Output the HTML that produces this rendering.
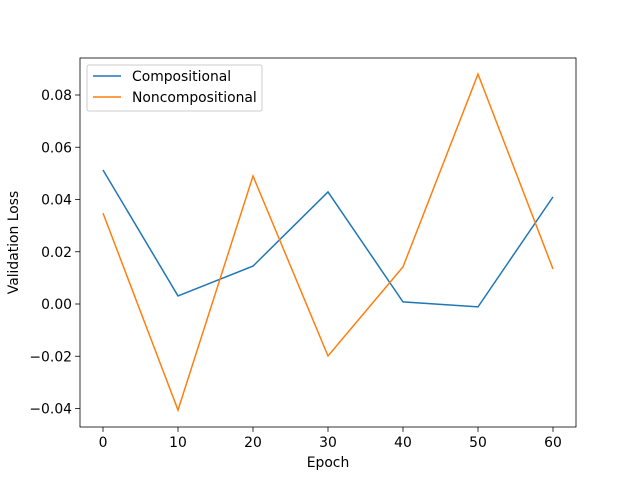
<!DOCTYPE html>
<html><head><meta charset="utf-8"><style>body{margin:0;background:#fff}svg{display:block;font-family:"DejaVu Sans","Liberation Sans",sans-serif}</style></head>
<body>
<svg id="chart" width="640" height="480"></svg>
<script>
const epochs=[0,10,20,30,40,50,60];
const compositional=[0.0513,0.0031,0.0145,0.0429,0.0008,-0.0011,0.041];
const noncompositional=[0.0348,-0.0406,0.049,-0.0199,0.0142,0.088,0.0134];
const xTicks=[0,10,20,30,40,50,60];
const yTicks=[-0.04,-0.02,0,0.02,0.04,0.06,0.08];
const L=80,R=576,T=58,B=427;
const xs=v=>103+(v-0)*7.5;
const ys=v=>304-v*2612.5;
const svg=document.getElementById('chart');
const NS='http://www.w3.org/2000/svg';
function mk(t,a,p){const e=document.createElementNS(NS,t);for(const k in a)e.setAttribute(k,a[k]);(p||svg).appendChild(e);return e;}
const FS=13.9;
let e;
e=mk('rect',{x:L,y:T,width:R-L,height:B-T,fill:'none',stroke:'#000','stroke-width':0.8});


xTicks.forEach(v=>{
 e=mk('line',{x1:xs(v),x2:xs(v),y1:B,y2:B+4.9,stroke:'#000','stroke-width':0.8});
 
 
 e=mk('text',{x:xs(v),y:B+20,'text-anchor':'middle','font-size':FS});e.textContent=v;
 
 
});
yTicks.forEach(v=>{
 e=mk('line',{x1:L-4.9,x2:L,y1:ys(v),y2:ys(v),stroke:'#000','stroke-width':0.8});
 
 
 e=mk('text',{x:L-8,y:ys(v)+5,'text-anchor':'end','font-size':FS});e.textContent=(v<0?'\u2212':'')+Math.abs(v).toFixed(2);
 
 
});
e=mk('text',{x:(L+R)/2,y:467,'text-anchor':'middle','font-size':FS});e.textContent='Epoch';


e=mk('text',{x:18,y:(T+B)/2,'text-anchor':'middle','font-size':FS,transform:`rotate(-90 18 ${(T+B)/2})`});e.textContent='Validation Loss';


function line(d,c,n){
 e=mk('polyline',{points:d.map((v,i)=>xs(epochs[i])+','+ys(v)).join(' '),fill:'none',stroke:c,'stroke-width':1.5});
 
 
}
line(compositional,'#1f77b4','compositional-line');
line(noncompositional,'#ff7f0e','noncompositional-line');
const g=mk('g',{});


mk('rect',{x:87,y:65,width:175,height:46,rx:2,fill:'#fff','fill-opacity':0.8,stroke:'#ccc'},g);
[['Compositional','#1f77b4',76],['Noncompositional','#ff7f0e',97]].forEach(([t,c,y])=>{
 mk('line',{x1:93,x2:121,y1:y,y2:y,stroke:c,'stroke-width':1.5},g);
 e=mk('text',{x:132,y:y+5,'font-size':FS},g);e.textContent=t;
 
 
});
</script>
</body></html>
